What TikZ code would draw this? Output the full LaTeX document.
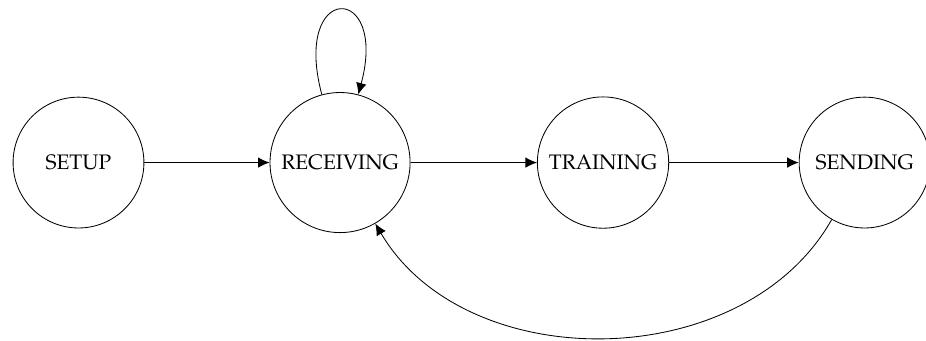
\documentclass[tikz,border=0pt]{standalone}
\usepackage[T1]{fontenc}
\usepackage{mathpazo}
\usetikzlibrary{arrows.meta}
\tikzset{
    statenode/.style={circle, draw, minimum size=2.19cm, inner sep=4.5pt, font=\normalsize},
    arrow/.style={-{Latex[length=5.5pt, width=5pt]}},
}
\begin{document}
\begin{tikzpicture}
            \useasboundingbox (-1.314, -2.971) rectangle (14.186, 2.721);
            \node[statenode] (setup) at (0, 0) {SETUP};
            \node[statenode] (receiving) at (4.378, 0) {RECEIVING};
            \node[statenode] (training) at (8.780, 0) {TRAINING};
            \node[statenode] (sending) at (13.158, 0) {SENDING};

            \draw[arrow] (setup) -- (receiving);
            \draw[arrow] (receiving) -- (training);
            \draw[arrow] (training) -- (sending);
            \draw[arrow] (receiving) to[out=105, in=75, loop, looseness=8.2] (receiving);
            \draw[arrow] (sending) to[bend left=60] (receiving);
        \end{tikzpicture}
\end{document}
